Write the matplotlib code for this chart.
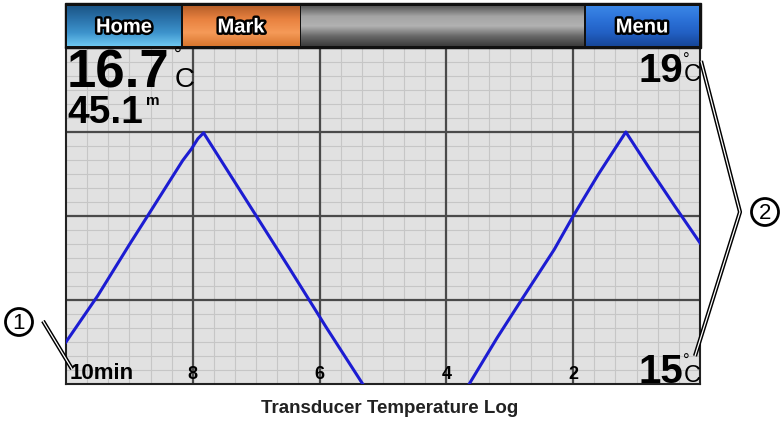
import numpy as np
import matplotlib
matplotlib.use('Agg')
import matplotlib.pyplot as plt
import matplotlib.patheffects as pe
from matplotlib.colors import LinearSegmentedColormap
from matplotlib.patches import Rectangle, Circle

# water temperature log, last 10 minutes (0 = now)
time_min = [10, 9.5, 9.0, 8.68, 8.16, 8.02, 7.92, 7.83, 7.57, 6.99, 6.47,
            5.9, 5.32, 4.47, 3.64, 3.2, 2.8, 2.3, 2.0, 1.6, 1.17, 0.8, 0.4, 0]
temp_c = [15.5, 16.05, 16.66, 17.04, 17.66, 17.8, 17.92, 17.99, 17.68, 16.99, 16.37,
          15.68, 15.0, 14.0, 15.0, 15.55, 16.02, 16.6, 17.0, 17.5, 18.0, 17.57, 17.12, 16.68]
x_ticks = [8, 6, 4, 2]
x_tick_labels = ['8', '6', '4', '2']
y_lines = [16, 17, 18]
buttons = ['Home', 'Mark', 'Menu']
temp_now = '16.7'
depth_now = '45.1'
t_max, t_min = 19, 15

W, H = 780, 427
fig = plt.figure(figsize=(W / 100, H / 100), dpi=100)
fig.patch.set_facecolor('white')
FONT = 'Liberation Sans'

# graph area of the device screen
L, R, T, B = 66, 700, 49, 385
ax = fig.add_axes([L / W, 1 - B / H, (R - L) / W, (B - T) / H])
ax.set_facecolor('#e1e1e1')
ax.set_xlim(10, 0)
ax.set_ylim(t_min, t_max)
ax.set_xticks([])
ax.set_yticks([])
for x in np.arange(1, 30) / 3:
    ax.axvline(x, color='#c6c6c6', lw=0.8, zorder=1)
for y in 15 + np.arange(1, 24) / 6:
    ax.axhline(y, color='#c6c6c6', lw=0.8, zorder=1)
for x in x_ticks:
    ax.axvline(x, color='#4a4a4a', lw=1.6, zorder=2)
for y in y_lines:
    ax.axhline(y, color='#4a4a4a', lw=1.6, zorder=2)
for s in ax.spines.values():
    s.set_color('#222222')
    s.set_linewidth(1.5)
ax.plot(time_min, temp_c, color='#1c1cd2', lw=2.2, zorder=3)

trans = ax.get_xaxis_transform()
for x, lab in zip(x_ticks, x_tick_labels):
    ax.text(x, 0.006, lab, transform=trans, ha='center', va='bottom',
            fontsize=13, fontweight='bold', family=FONT, color='black', zorder=4)
ax.text(0.006, 0.004, '10min', transform=ax.transAxes, ha='left', va='bottom',
        fontsize=16, fontweight='bold', family=FONT, color='black', zorder=4)

# overlay in pixel coordinates for bar, readouts and callouts
ov = fig.add_axes([0, 0, 1, 1], zorder=5)
ov.patch.set_alpha(0)
ov.axis('off')


def grad_box(x0, x1, y0, y1, colors, z=2):
    cmap = LinearSegmentedColormap.from_list('g', colors)
    g = np.linspace(0, 1, 64).reshape(-1, 1)
    ov.imshow(g, cmap=cmap, extent=(x0, x1, y1, y0), aspect='auto', zorder=z)


ov.add_patch(Rectangle((L - 1, 4), R - L + 2, 45, color='#111111', zorder=1))
grad_box(67, 181, 7, 47, ['#1c5687', '#2b73ab', '#3d93cc', '#6cc6f0'])
grad_box(183, 300, 7, 47, ['#b8602a', '#e98240', '#f59a58', '#d9772f'])
grad_box(301, 584, 7, 47, ['#5a5a5a', '#a4a4a4', '#b2b2b2', '#6a6a6a', '#3c3c3c'])
grad_box(586, 699, 7, 47, ['#3a86e6', '#2c72d8', '#2260c4', '#17479a'])

stroke = [pe.withStroke(linewidth=3.5, foreground='black')]
for label, cx in zip(buttons, [124, 241, 642]):
    ov.text(cx, 28, label, ha='center', va='center', fontsize=14.5, fontweight='bold',
            family=FONT, color='white', path_effects=stroke, zorder=6)

# current readouts
ov.text(67, 88, temp_now, ha='left', va='baseline', fontsize=38, fontweight='bold',
        family=FONT, color='black')
ov.text(174, 60, '°', ha='left', va='baseline', fontsize=14, family=FONT, color='black')
ov.text(175, 87, 'C', ha='left', va='baseline', fontsize=20, family=FONT, color='black')
ov.text(67, 123, depth_now, ha='left', va='baseline', fontsize=28, fontweight='bold',
        family=FONT, color='black')
ov.text(146, 105, 'm', ha='left', va='baseline', fontsize=11, fontweight='bold',
        family=FONT, color='black')

for val, base in [(t_max, 82), (t_min, 383)]:
    ov.text(683, base, str(val), ha='right', va='baseline', fontsize=29, fontweight='bold',
            family=FONT, color='black')
    ov.text(683, base - 17, '°', ha='left', va='baseline', fontsize=12, family=FONT,
            color='black')
    ov.text(684, base - 1, 'C', ha='left', va='baseline', fontsize=17, family=FONT,
            color='black')


# callout leaders drawn as a double line
def leader(xs, ys):
    ov.plot(xs, ys, color='black', lw=3.0, solid_capstyle='butt', zorder=7)
    ov.plot(xs, ys, color='white', lw=0.9, solid_capstyle='butt', zorder=8)


leader([43, 72], [322, 370])
leader([701, 740, 695], [62, 213, 357])

for (cx, cy), num in [((19, 323), '1'), ((765, 213), '2')]:
    ov.add_patch(Circle((cx, cy), 13.5, fill=False, ec='black', lw=2.0, zorder=7))
    ov.text(cx, cy + 1, num, ha='center', va='center', fontsize=16, family=FONT,
            color='black', zorder=8)

ov.text(390, 409, 'Transducer Temperature Log', ha='center', va='center', fontsize=13.5,
        fontweight='bold', family=FONT, color='#222222')

ov.set_xlim(0, W)
ov.set_ylim(H, 0)

fig.savefig('out.png', dpi=100)
